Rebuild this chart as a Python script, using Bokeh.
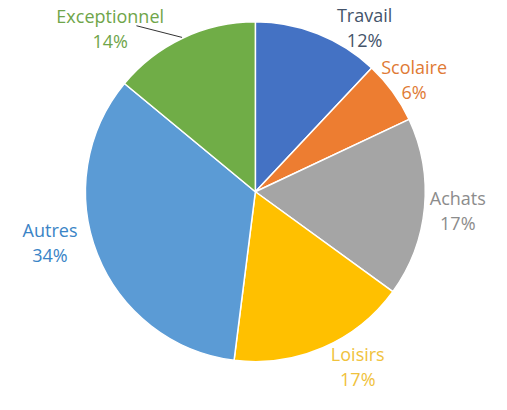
from math import pi
from bokeh.plotting import figure
from bokeh.models import Range1d, ColumnDataSource
from bokeh.core.properties import value
from bokeh.embed import file_html
from bokeh.resources import INLINE

# ---- data ----
categories = ["Travail", "Scolaire", "Achats", "Loisirs", "Autres", "Exceptionnel"]
shares = [12, 6, 17, 17, 34, 14]
pct_labels = ["12%", "6%", "17%", "17%", "34%", "14%"]

# ---- styles / layout ----
slice_colors = ["#4472C4", "#ED7D31", "#A5A5A5", "#FFC000", "#5B9BD5", "#70AD47"]
label_colors = ["#44546A", "#E07A35", "#8C8C8C", "#F0C23C", "#3A84C6", "#6FA54A"]
W, H = 491, 394
S = 1.03  # data units per screen pixel (whole layout slightly shrunk to fit)
X0, Y0 = 0.0, 4.0  # top-left of visible area in layout coordinates
cx, cy_img, r = 262.5, 201, 175
# label anchor (layout coords, centre of the two-line block)
label_pos = [(375, 32), (426, 85), (471, 220), (368, 381), (51, 253), (113, 33)]
line_gap = 26

def Y(y_img):
    return 420 - y_img

total = float(sum(shares))
starts, ends = [], []
cum = 0.0
for s in shares:
    starts.append(pi / 2 - 2 * pi * cum / total)
    cum += s
    ends.append(pi / 2 - 2 * pi * cum / total)

src = ColumnDataSource(dict(cat=categories, start=starts, end=ends, color=slice_colors))

p = figure(width=W, height=H, output_backend="svg", toolbar_location=None,
           x_range=Range1d(X0, X0 + W * S),
           y_range=Range1d(Y(Y0 + H * S), Y(Y0)),
           min_border=0)
p.axis.visible = False
p.grid.visible = False
p.outline_line_color = None
p.background_fill_color = "white"

p.wedge(x=cx, y=Y(cy_img), radius=r, start_angle="start", end_angle="end",
        direction="clock", fill_color="color", line_color="white",
        line_width=1.5, source=src)

# leader line for Exceptionnel
p.line(x=[140, 187], y=[Y(30), Y(42)], line_color="#333333", line_width=1)

lx, ly1, ly2, t1, t2, lc = [], [], [], [], [], []
for i, c in enumerate(categories):
    x, y = label_pos[i]
    lx.append(x)
    ly1.append(Y(y - line_gap / 2))
    ly2.append(Y(y + line_gap / 2))
    t1.append(c)
    t2.append(pct_labels[i])
    lc.append(label_colors[i])

lsrc = ColumnDataSource(dict(x=lx, y1=ly1, y2=ly2, t1=t1, t2=t2, c=lc))
for ycol, tcol in (("y1", "t1"), ("y2", "t2")):
    p.text(x="x", y=ycol, text=tcol, source=lsrc, text_color="c",
           text_font=value("Open Sans"), text_font_size="18px",
           text_align="center", text_baseline="middle")

open("out.html", "w").write(file_html(p, INLINE))
